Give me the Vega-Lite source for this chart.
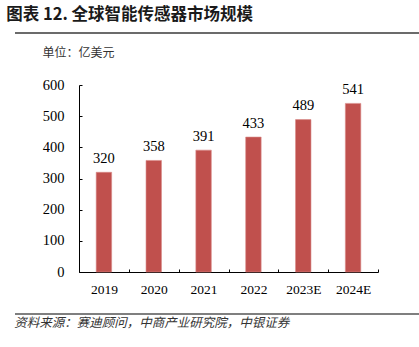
{
  "$schema": "https://vega.github.io/schema/vega-lite/v6.json",
  "padding": {"left": 6, "top": 6, "right": 0, "bottom": 0},
  "autosize": {"type": "pad"},
  "background": "white",
  "config": {"view": {"stroke": null}, "font": "Liberation Serif"},
  "spacing": 12,
  "vconcat": [
    {
      "width": 405,
      "height": 1,
      "title": {"text": "图表 12. 全球智能传感器市场规模", "anchor": "start", "dx": -8, "offset": -4, "baseline": "alphabetic", "font": "Noto Sans CJK SC", "fontSize": 16.5, "fontWeight": "bold", "color": "#1a1a1a"},
      "data": {"values": [{"a": 0, "b": 1, "c": 1}]},
      "mark": {"type": "rule", "color": "#3a3a3a", "strokeWidth": 1.5},
      "encoding": {
        "x": {"field": "a", "type": "quantitative", "scale": {"domain": [0, 1]}, "axis": null},
        "x2": {"field": "b"},
        "y": {"field": "c", "type": "quantitative", "scale": {"domain": [0, 1]}, "axis": null}
      }
    },
    {
      "spacing": 0,
      "hconcat": [
        {"width": 27, "height": 216, "data": {"values": []}, "mark": "point", "encoding": {}},
        {
          "width": 299,
          "height": 187,
          "data": {"values": [
            {"year": "2019", "value": 320},
            {"year": "2020", "value": 358},
            {"year": "2021", "value": 391},
            {"year": "2022", "value": 433},
            {"year": "2023E", "value": 489},
            {"year": "2024E", "value": 541}
          ]},
          "encoding": {
            "x": {"field": "year", "type": "nominal", "sort": null,
              "scale": {"paddingInner": 0, "paddingOuter": 0},
              "axis": {"title": null, "labelAngle": 0, "tickBand": "extent", "tickSize": -3, "domainColor": "#000000", "tickColor": "#000000", "labelFont": "Liberation Serif", "labelFontSize": 13.5, "labelColor": "#000000", "labelPadding": 13}},
            "y": {"field": "value", "type": "quantitative",
              "scale": {"domain": [0, 600], "nice": false},
              "axis": {"title": "单位：亿美元", "titleAngle": 0, "titleAlign": "left", "titleBaseline": "middle", "titleX": -37, "titleY": -33, "titleFont": "Noto Sans CJK SC", "titleFontSize": 12, "titleFontWeight": "normal", "titleColor": "#333333",
                "values": [0, 100, 200, 300, 400, 500, 600], "grid": false, "tickSize": -3, "labelPadding": 18, "labelFont": "Liberation Serif", "labelFontSize": 14.5, "labelColor": "#000000", "domainColor": "#000000", "tickColor": "#000000"}}
          },
          "layer": [
            {"mark": {"type": "bar", "color": "#C0504D", "stroke": "#D98A88", "strokeWidth": 0.6, "width": {"band": 0.31}}},
            {"mark": {"type": "text", "baseline": "alphabetic", "dy": -9.5, "font": "Liberation Serif", "fontSize": 14.5, "color": "#000000"},
              "encoding": {"text": {"field": "value", "type": "quantitative"}}}
          ]
        }
      ]
    },
    {
      "width": 405,
      "height": 1,
      "title": {"text": "资料来源：赛迪顾问，中商产业研究院，中银证券", "orient": "bottom", "anchor": "start", "offset": 2, "baseline": "top", "font": "Noto Sans CJK SC", "fontSize": 12.5, "fontStyle": "italic", "fontWeight": "normal", "color": "#333333"},
      "data": {"values": [{"a": 0, "b": 1, "c": 1}]},
      "mark": {"type": "rule", "color": "#555555", "strokeWidth": 1.5},
      "encoding": {
        "x": {"field": "a", "type": "quantitative", "scale": {"domain": [0, 1]}, "axis": null},
        "x2": {"field": "b"},
        "y": {"field": "c", "type": "quantitative", "scale": {"domain": [0, 1]}, "axis": null}
      }
    }
  ]
}
